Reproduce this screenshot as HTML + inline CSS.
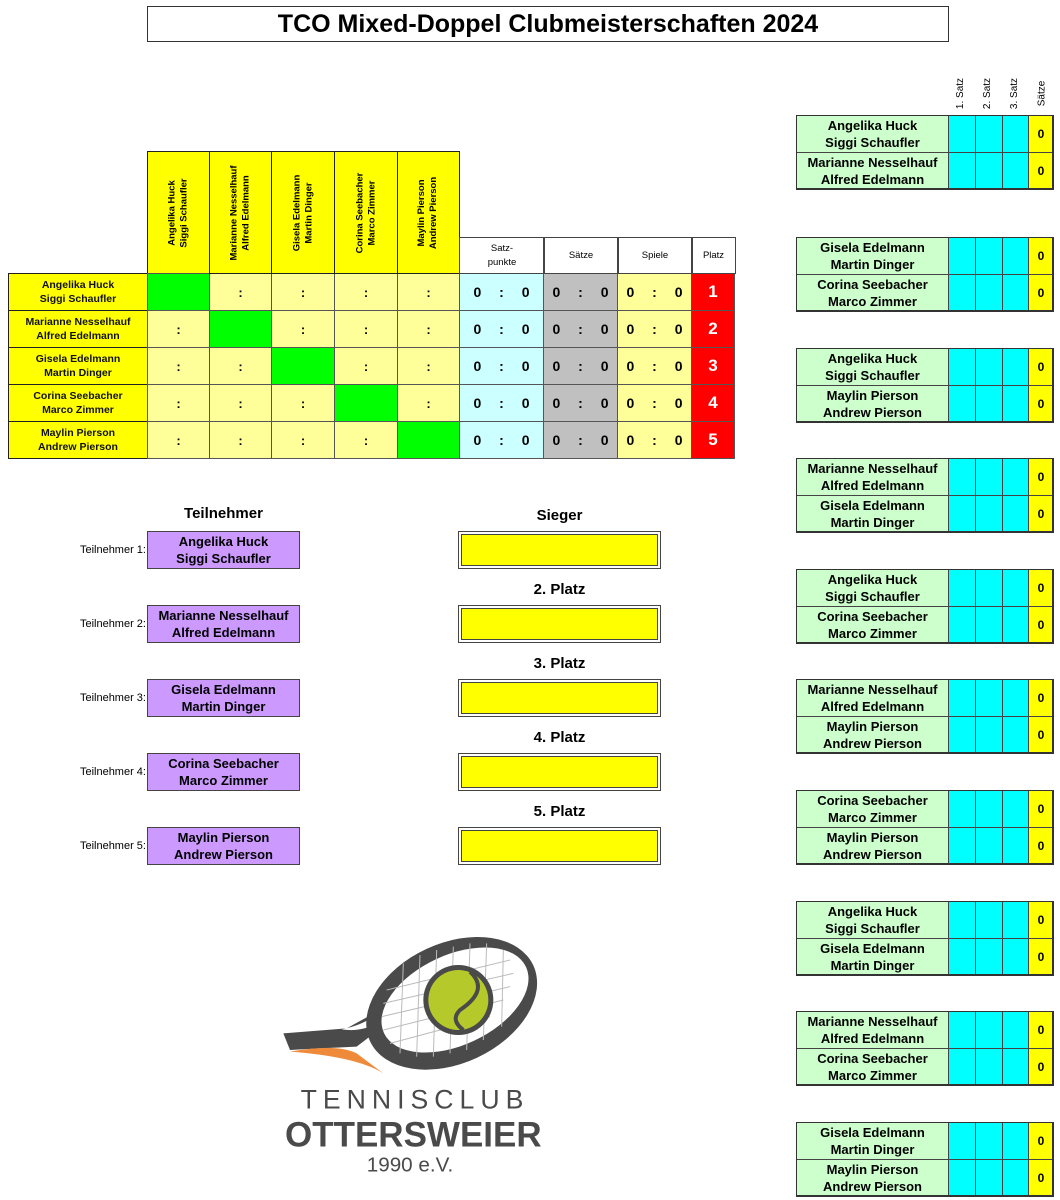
<!DOCTYPE html>
<html><head><meta charset="utf-8"><style>
body{margin:0;width:1060px;height:1200px;background:#fff;position:relative;font-family:"Liberation Sans",Arial,sans-serif;overflow:hidden}
.a{position:absolute;box-sizing:border-box}
.c{display:flex;align-items:center;justify-content:center;text-align:center}
.t{font-weight:bold;font-size:11px;line-height:17px;color:#111}
.b{font-weight:bold;font-size:13px;line-height:17px}
</style></head><body>
<div class="a c" style="left:147px;top:6px;width:802px;height:36px;border:1px solid #333;font-weight:bold;font-size:25px">TCO Mixed-Doppel Clubmeisterschaften 2024</div>
<div id="m"></div>
<svg class="a" style="left:270px;top:900px" width="290" height="290" viewBox="0 0 870 870">
<path d="M40 400 L230 385 L330 330 L345 375 L260 440 Q150 445 60 450 Z" fill="#4a4a4a"/>
<path d="M215 388 Q280 375 315 345 L300 380 Q260 395 215 388Z" fill="#fff"/>
<path d="M60 455 Q200 430 260 460 Q300 490 340 520 Q260 470 60 455Z" fill="#ef8a3a"/>
<ellipse cx="545" cy="310" rx="270" ry="180" transform="rotate(-25 545 310)" fill="#4a4a4a"/>
<ellipse cx="555" cy="300" rx="235" ry="135" transform="rotate(-25 555 300)" fill="#fff"/>
<g stroke="#bbb" stroke-width="3"><path d="M350 270 L720 180 M340 310 L730 220 M335 350 L720 260 M340 390 L700 300 M360 430 L660 350 M400 190 L390 460 M450 165 L440 470 M500 150 L490 470 M550 140 L540 460 M600 130 L590 450 M650 130 L640 420 M700 150 L695 380"/></g>
<circle cx="565" cy="300" r="105" fill="#4a4a4a"/><circle cx="565" cy="300" r="90" fill="#b5c92a"/>
<path d="M600 215 Q660 270 570 330 Q540 360 580 390" stroke="#4a4a4a" stroke-width="12" fill="none"/>
<text x="435" y="625" font-size="80" text-anchor="middle" fill="#4a4a4a" letter-spacing="18" font-family="Liberation Sans">TENNISCLUB</text>
<text x="430" y="740" font-size="105" font-weight="bold" text-anchor="middle" fill="#4a4a4a" font-family="Liberation Sans">OTTERSWEIER</text>
<text x="420" y="815" font-size="62" text-anchor="middle" fill="#4a4a4a" font-family="Liberation Sans">1990 e.V.</text>
</svg>
<script>
const N=[["Angelika Huck","Siggi Schaufler"],["Marianne Nesselhauf","Alfred Edelmann"],["Gisela Edelmann","Martin Dinger"],["Corina Seebacher","Marco Zimmer"],["Maylin Pierson","Andrew Pierson"]];
let h="";const d=(x,y,w,hh,st,cl,txt)=>{h+=`<div class="a ${cl||''}" style="left:${x}px;top:${y}px;width:${w}px;height:${hh}px;${st}">${txt||''}</div>`};
const cx=[147,209,271,334,397,459];
for(let i=0;i<5;i++){
 d(cx[i],151,cx[i+1]-cx[i]+1,123,"background:#ff0;border:1px solid #222;","c",`<div style="transform:rotate(-90deg);white-space:nowrap;font-weight:bold;font-size:9.5px;line-height:12px">${N[i][0]}<br>${N[i][1]}</div>`);
 const y=273+i*37;
 d(8,y,140,38,"background:#ff0;border:1px solid #222;","c t",`<div style="font-size:10.5px;line-height:14px">${N[i][0]}<br>${N[i][1]}</div>`);
 for(let j=0;j<5;j++)d(cx[j],y,cx[j+1]-cx[j]+1,38,`background:${i==j?'#0f0':'#ffff99'};border:1px solid #555;font-weight:bold;font-size:13px`,"c",i==j?'':':');
 d(459,y,85,38,"background:#ccffff;border:1px solid #555;font-weight:bold;font-size:14px;word-spacing:14px","c","0 : 0");
 d(543,y,75,38,"background:#c0c0c0;border:1px solid #555;font-weight:bold;font-size:14px;word-spacing:14px","c","0 : 0");
 d(617,y,75,38,"background:#ffff99;border:1px solid #555;font-weight:bold;font-size:14px;word-spacing:14px","c","0 : 0");
 d(691,y,44,38,"background:#f00;color:#fff;border:1px solid #555;font-weight:bold;font-size:17px","c",i+1);
 const ty=531+i*74;
 d(147,ty,153,38,"background:#cc99ff;border:1px solid #444;","c b",N[i][0]+"<br>"+N[i][1]);
 d(0,ty,146,38,"font-size:11px;justify-content:flex-end","c","Teilnehmer "+(i+1)+":");
 d(458,ty,203,38,"background:#ff0;border:1px solid #444;box-shadow:inset 0 0 0 2px #fff,inset 0 0 0 3px #444","");
 d(458,ty-27,203,22,"font-weight:bold;font-size:15px","c",i==0?"Sieger":(i+1)+". Platz");
}
d(147,502,153,22,"font-weight:bold;font-size:15px","c","Teilnehmer");
[["Satz-<br>punkte",459,85],["Sätze",543,75],["Spiele",617,75],["Platz",691,44]].forEach(s=>d(s[1],237,s[2]+1,37,"border:1px solid #444;font-size:9.5px;line-height:14px","c",s[0]));
["1. Satz","2. Satz","3. Satz","Sätze"].forEach((s,i)=>d(948+i*27,75,26,37,"font-size:10px","c",`<div style="transform:rotate(-90deg);white-space:nowrap">${s}</div>`));
const P=[[0,1],[2,3],[0,4],[1,2],[0,3],[1,4],[3,4],[0,2],[1,3],[2,4]];
P.forEach((p,k)=>{const y=k==0?115:Math.round(237+110.6*(k-1));
 p.forEach((n,r)=>{const yy=y+r*37;
  d(796,yy,153,38,"background:#ccffcc;border:1px solid #444;","c b",N[n][0]+"<br>"+N[n][1]);
  [948,975,1002].forEach(x=>d(x,yy,28,38,"background:#0ff;border:1px solid #444",""));
  d(1028,yy,26,38,"background:#ff0;border:1px solid #444;font-weight:bold;font-size:12px","c","0");});
 d(796,y,258,75,"border:2px solid #333;border-top-width:1px;border-left-width:1px","");});
document.getElementById("m").innerHTML=h;
</script>
</body></html>
